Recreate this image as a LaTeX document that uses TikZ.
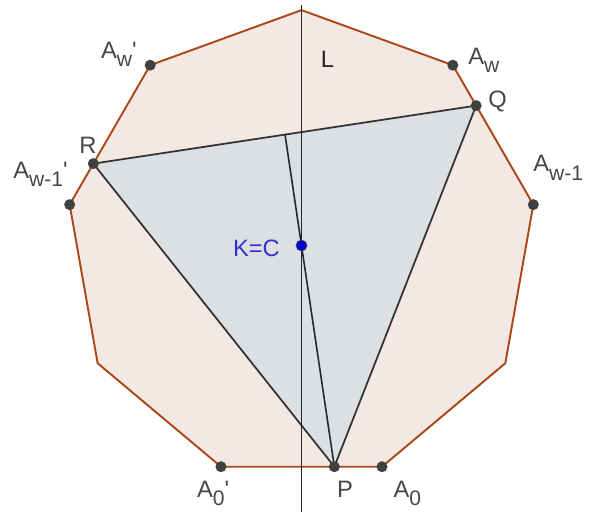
\documentclass[tikz,border=0pt]{standalone}
\usepackage{fontspec}
\setmainfont{Liberation Sans}
\usetikzlibrary{calc}

\definecolor{edgebrown}{RGB}{170,72,25}
\definecolor{fillpink}{RGB}{244,232,228}
\definecolor{fillgray}{RGB}{220,224,227}
\definecolor{labelgray}{RGB}{70,70,70}
\definecolor{labelblue}{RGB}{50,50,210}

% lowered index as the plotter sets it
\newcommand{\subtxt}[1]{\raisebox{-5pt}{\fontsize{12}{12}\selectfont #1}}

\tikzset{
    % --- Regular polygon (boundary + light fill) ---
    nonagon/.style = {
        draw=edgebrown, line width=1.1pt, fill=fillpink
    },
    % --- Inscribed triangle ---
    tri/.style = {
        draw=black!80, line width=1.0pt, fill=fillgray, line join=round
    },
    % --- Straight lines (axis L, median) ---
    plain line/.style = {
        draw=black!85, line width=0.9pt
    },
    % --- Point marker ---
    pt/.style = {
        circle, fill=black!75, inner sep=0pt, minimum size=0.22cm
    },
    % --- Centre marker ---
    centre pt/.style = {
        pt, fill=blue!85!black, draw=black!70, line width=0.4pt
    },
    % --- Point label ---
    lbl/.style = {
        inner sep=0pt, anchor=base west, text=labelgray,
        font=\fontsize{13.5}{16}\selectfont
    }
}

\begin{document}
\begin{tikzpicture}[x=0.02cm, y=0.02cm]

% ---------------------------------------------------------
% Frame (pixel units, centre of polygon at origin)
% ---------------------------------------------------------
\useasboundingbox (-301.5,-266.5) rectangle (289.5,245.5);

% ---------------------------------------------------------
% Vertices of the nonagon
% ---------------------------------------------------------
\coordinate (C) at (0,0);
\foreach \i in {0,...,8}
    \coordinate (V\i) at ({90+40*\i}:235.4);

% points on the sides
\coordinate (Q) at ($(V8)!0.29!(V7)$);
\coordinate (R) at ($(V1)!0.706!(V2)$);
\coordinate (P) at ($(V4)!0.704!(V5)$);

\draw[nonagon] (V0) \foreach \i in {1,...,8}{ -- (V\i)} -- cycle;

% ---------------------------------------------------------
% Triangle PQR and lines
% ---------------------------------------------------------
\draw[tri] (P) -- (Q) -- (R) -- cycle;

\coordinate (M) at (intersection of P--C and R--Q);
\draw[plain line] (P) -- (M);

\coordinate (Ltop) at (0,240.5);
\coordinate (Lbot) at (0,-266.5);
\draw[plain line] (Ltop) -- (Lbot);

% ---------------------------------------------------------
% Markers
% ---------------------------------------------------------
\node[pt] (Awp)  at (V1) {};
\node[pt] (Awmp) at (V2) {};
\node[pt] (A0p)  at (V4) {};
\node[pt] (A0)   at (V5) {};
\node[pt] (Awm)  at (V7) {};
\node[pt] (Aw)   at (V8) {};
\node[pt] (Qpt)  at (Q) {};
\node[pt] (Rpt)  at (R) {};
\node[pt] (Ppt)  at (P) {};
\node[centre pt] (Cpt) at (C) {};

% ---------------------------------------------------------
% Labels
% ---------------------------------------------------------
\node[lbl, text=black!85] (Llbl) at (19,178) {L};
\node[lbl] (Awplbl)  at (-200.8,187.5) {A\subtxt{w}\textquotesingle};
\node[lbl] (Awlbl)   at (166.5,181.5) {A\subtxt{w}};
\node[lbl] (Qlbl)    at (186.5,138) {Q};
\node[lbl] (Awmlbl)  at (231.5,73.8) {A\subtxt{w-1}};
\node[lbl] (Rlbl)    at (-222.5,92.5) {R};
\node[lbl] (Awmplbl) at (-288.5,67.5) {A\subtxt{w-1}\textquotesingle};
\node[lbl, text=labelblue] (Clbl) at (-68.8,-11.2) {K=C};
\node[lbl] (A0plbl)  at (-104.8,-251.5) {A\subtxt{0}\textquotesingle};
\node[lbl] (Plbl)    at (35.2,-251.5) {P};
\node[lbl] (A0lbl)   at (91.8,-251.5) {A\subtxt{0}};

\end{tikzpicture}
\end{document}
